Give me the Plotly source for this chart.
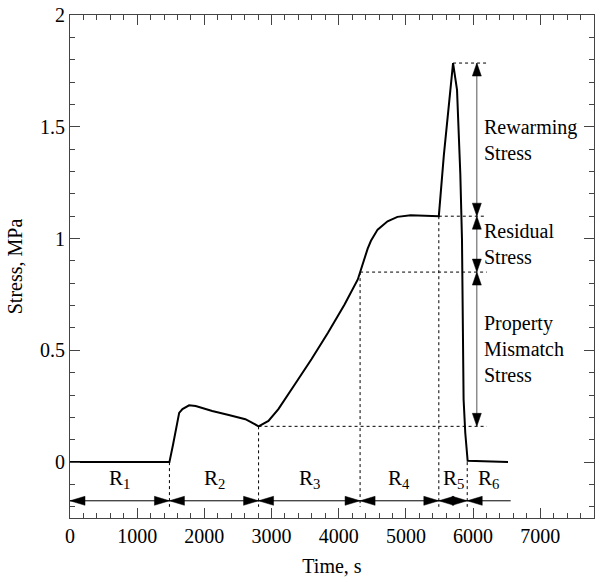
import plotly.graph_objects as go

# ---- data ----
time_s = [0, 1480, 1535, 1625, 1674, 1773, 1871, 2117, 2363, 2610, 2708, 2807,
          2954, 3102, 3348, 3594, 3840, 4087, 4284, 4318, 4382, 4431, 4480, 4579,
          4727, 4874, 5071, 5490, 5564, 5702, 5761, 5810, 5835, 5859, 5884, 5919, 6520]
stress_mpa = [0, 0, 0.08, 0.22, 0.237, 0.254, 0.251, 0.229, 0.211, 0.192, 0.177, 0.16,
              0.184, 0.237, 0.348, 0.46, 0.579, 0.705, 0.817, 0.85, 0.906, 0.955, 0.99, 1.04,
              1.077, 1.097, 1.104, 1.1, 1.37, 1.785, 1.665, 1.29, 0.996, 0.28, 0.13, 0.006, 0]

region_bounds = [0, 1480, 2807, 4318, 5490, 5913]
region_end = 6560
region_labels = ["R<sub>1</sub>", "R<sub>2</sub>", "R<sub>3</sub>", "R<sub>4</sub>", "R<sub>5</sub>", "R<sub>6</sub>"]
bound_levels = [0, 0, 0.16, 0.85, 1.1, 0]          # where each vertical dotted line starts

stress_levels = [1.785, 1.1, 0.85, 0.16]           # right-side component limits
level_starts = [5702, 5490, 4318, 2807]
component_labels = ["Rewarming<br>Stress", "Residual<br>Stress", "Property<br>Mismatch<br>Stress"]

x_ticks = [0, 1000, 2000, 3000, 4000, 5000, 6000, 7000]
y_ticks = [0, 0.5, 1, 1.5, 2]
y_tick_text = ["0", "0.5", "1", "1.5", "2"]

ARROW_Y = -0.173
DIM_X = 6056
DOT_END = 6204
FONT = "Liberation Serif, Times New Roman, Times, serif"

fig = go.Figure()
fig.add_trace(go.Scatter(x=time_s, y=stress_mpa, mode="lines",
                         line=dict(color="black", width=2), showlegend=False))

shapes = []
annotations = []

def tri(xa, ya, direction, length=15, half=4.5):
    if direction == "left":
        p = f"M0,0 L{length},{half} L{length},{-half} Z"
    elif direction == "right":
        p = f"M0,0 L{-length},{half} L{-length},{-half} Z"
    elif direction == "up":
        p = f"M0,0 L{-half},{-length} L{half},{-length} Z"
    else:
        p = f"M0,0 L{-half},{length} L{half},{length} Z"
    return dict(type="path", xref="x", yref="y", xsizemode="pixel", ysizemode="pixel",
                xanchor=xa, yanchor=ya, path=p, fillcolor="black",
                line=dict(color="black", width=0.5))

# vertical dotted region boundaries
for xb, yb in zip(region_bounds[1:], bound_levels[1:]):
    shapes.append(dict(type="line", xref="x", yref="y", x0=xb, x1=xb, y0=yb, y1=-0.2,
                       line=dict(color="black", width=1, dash="dot")))

# horizontal arrow line
shapes.append(dict(type="line", xref="x", yref="y", x0=region_bounds[0], x1=region_end,
                   y0=ARROW_Y, y1=ARROW_Y, line=dict(color="black", width=1)))
ends = region_bounds[1:] + [region_end]
for i, (a, b) in enumerate(zip(region_bounds, ends)):
    shapes.append(tri(a, ARROW_Y, "left"))
    if i < len(region_bounds) - 1:
        shapes.append(tri(b, ARROW_Y, "right"))
    annotations.append(dict(x=(a + b) / 2, y=-0.075, xref="x", yref="y", text=region_labels[i],
                            showarrow=False, font=dict(family=FONT, size=21, color="black")))

# horizontal dotted levels
for lv, xs in zip(stress_levels, level_starts):
    shapes.append(dict(type="line", xref="x", yref="y", x0=xs, x1=DOT_END, y0=lv, y1=lv,
                       line=dict(color="black", width=1, dash="dot")))

# vertical dimension arrows
for i in range(len(stress_levels) - 1):
    top, bot = stress_levels[i], stress_levels[i + 1]
    shapes.append(dict(type="line", xref="x", yref="y", x0=DIM_X, x1=DIM_X, y0=bot, y1=top,
                       line=dict(color="#555555", width=1)))
    shapes.append(tri(DIM_X, top, "up", length=13, half=4.5))
    shapes.append(tri(DIM_X, bot, "down", length=13, half=4.5))
    annotations.append(dict(x=6130, y=(top + bot) / 2, xref="x", yref="y",
                            text=component_labels[i], showarrow=False, xanchor="left",
                            align="left", font=dict(family=FONT, size=20, color="black")))

axis_common = dict(showline=True, linecolor="#444444", linewidth=1, mirror="ticks",
                   ticks="inside", ticklen=10, tickcolor="#444444", showgrid=False,
                   zeroline=False, automargin=False,
                   tickfont=dict(family=FONT, size=20, color="black"))

fig.update_layout(
    width=600, height=582,
    margin=dict(l=70, r=6, t=15, b=64, autoexpand=False),
    paper_bgcolor="white", plot_bgcolor="white",
    font=dict(family=FONT, color="black"),
    shapes=shapes, annotations=annotations,
    xaxis=dict(range=[0, 7800], tickvals=x_ticks,
               minor=dict(dtick=200, ticks="inside", ticklen=5, tickcolor="#444444"),
               title=dict(text="Time, s", font=dict(family=FONT, size=20, color="black"), standoff=12),
               **axis_common),
    yaxis=dict(range=[-0.25, 2], tickvals=y_ticks, ticktext=y_tick_text,
               minor=dict(dtick=0.1, tick0=0, ticks="inside", ticklen=5, tickcolor="#444444"),
               title=dict(text="Stress, MPa", font=dict(family=FONT, size=20, color="black"), standoff=12),
               **axis_common),
)

fig.write_html("out.html", config={"displayModeBar": False},
               post_script="document.body.style.margin='0';document.body.style.overflow='hidden';")
